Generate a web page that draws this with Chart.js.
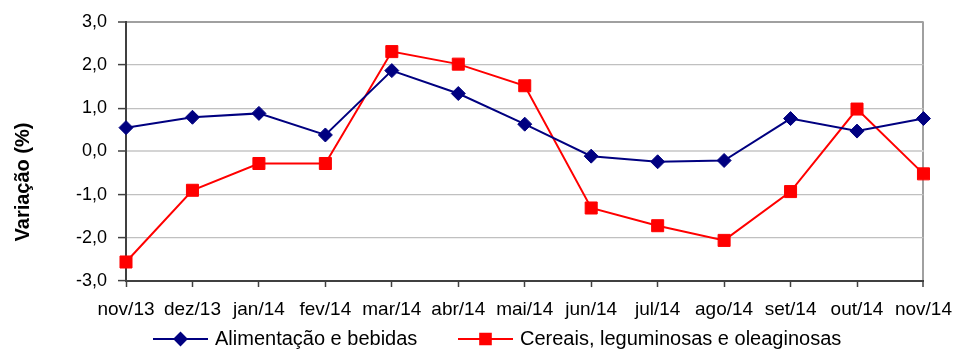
<!DOCTYPE html>
<html>
<head>
<meta charset="utf-8">
<script src="https://cdn.jsdelivr.net/npm/chart.js@4"></script>
<style>
    html, body { margin: 0; padding: 0; background: #fff; }
    #wrap { width: 963px; height: 354px; }
</style>
</head>
<body>
<div id="wrap"><canvas id="variacaoChart" width="963" height="354"></canvas></div>
<script>
// Monthly price variation (%)
const months = ['nov/13', 'dez/13', 'jan/14', 'fev/14', 'mar/14', 'abr/14', 'mai/14',
                'jun/14', 'jul/14', 'ago/14', 'set/14', 'out/14', 'nov/14'];
const alimentacao = [0.55, 0.79, 0.88, 0.38, 1.87, 1.34, 0.63, -0.11, -0.24, -0.21, 0.76, 0.47, 0.76];
const cereais = [-2.56, -0.90, -0.28, -0.28, 2.31, 2.02, 1.52, -1.31, -1.72, -2.06, -0.93, 0.98, -0.52];
const yTicks = [-3, -2, -1, 0, 1, 2, 3];
const yTitle = 'Variação (%)';

document.addEventListener('DOMContentLoaded', function() {
    const ctx = document.getElementById('variacaoChart');
    if (!ctx) return;

    const fontFamily = '"Liberation Sans", Arial, sans-serif';

    // axis title and a line+marker legend drawn on top of the chart
    const overlay = {
        id: 'overlay',
        afterDraw(chart) {
            const c = chart.ctx;
            c.save();
            c.translate(23, 182);
            c.rotate(-Math.PI / 2);
            c.font = 'bold 20px ' + fontFamily;
            c.fillStyle = '#000';
            c.textAlign = 'center';
            c.textBaseline = 'middle';
            c.fillText(yTitle, 0, 0);
            c.restore();

            const starts = [153, 458];
            const y = 339;
            chart.data.datasets.forEach((ds, i) => {
                const x = starts[i];
                c.save();
                c.strokeStyle = ds.borderColor;
                c.lineWidth = 2;
                c.beginPath();
                c.moveTo(x, y);
                c.lineTo(x + 55, y);
                c.stroke();
                c.fillStyle = ds.backgroundColor;
                c.strokeStyle = ds.borderColor;
                Chart.helpers.drawPoint(c, {
                    pointStyle: ds.pointStyle,
                    radius: ds.pointRadius - 1,
                    rotation: 0,
                    borderWidth: 1
                }, x + 27.5, y);
                c.font = '20px ' + fontFamily;
                c.fillStyle = '#000';
                c.textAlign = 'left';
                c.textBaseline = 'middle';
                c.fillText(ds.label, x + 62, y);
                c.restore();
            });
        }
    };

    new Chart(ctx.getContext('2d'), {
        type: 'line',
        data: {
            labels: months,
            datasets: [
                {
                    label: 'Alimentação e bebidas',
                    data: alimentacao,
                    borderColor: '#000080',
                    backgroundColor: '#000080',
                    borderWidth: 2,
                    tension: 0,
                    pointStyle: 'rectRot',
                    pointRadius: 7,
                    pointBorderWidth: 1
                },
                {
                    label: 'Cereais, leguminosas e oleaginosas',
                    data: cereais,
                    borderColor: '#ff0000',
                    backgroundColor: '#ff0000',
                    borderWidth: 2,
                    tension: 0,
                    pointStyle: 'rect',
                    pointRadius: 8.5,
                    pointBorderWidth: 1
                }
            ]
        },
        options: {
            responsive: false,
            animation: false,
            layout: {
                padding: { top: 19, right: 39, bottom: 28, left: 0 }
            },
            scales: {
                x: {
                    type: 'category',
                    offset: false,
                    afterFit: function(scale) { scale.height = 45; },
                    border: { color: '#404040', width: 2 },
                    grid: {
                        drawOnChartArea: true,
                        color: c => c.index === months.length - 1 ? '#a0a0a0' : 'rgba(0,0,0,0)',
                        lineWidth: c => c.index === months.length - 1 ? 2 : 1,
                        tickColor: '#404040',
                        tickWidth: 1.5,
                        tickLength: 6
                    },
                    ticks: {
                        autoSkip: false,
                        maxRotation: 0,
                        minRotation: 0,
                        padding: 11,
                        color: '#000',
                        font: { family: '"Liberation Sans Narrow", "Arial Narrow", ' + fontFamily, size: 19 }
                    }
                },
                y: {
                    min: yTicks[0],
                    max: yTicks[yTicks.length - 1],
                    afterFit: function(scale) { scale.width = 126; },
                    afterBuildTicks: function(scale) {
                        scale.ticks = yTicks.map(v => ({ value: v }));
                    },
                    border: { color: '#404040', width: 2 },
                    grid: {
                        color: c => c.tick && c.tick.value === 3 ? '#a0a0a0' : (c.tick && c.tick.value === 0 ? '#d4d4d4' : '#c0c0c0'),
                        lineWidth: c => c.tick && (c.tick.value === 3 || c.tick.value === 0) ? 2 : 1.2,
                        tickColor: '#404040',
                        tickWidth: 1.5,
                        tickLength: 8
                    },
                    ticks: {
                        padding: 11,
                        color: '#000',
                        font: { family: fontFamily, size: 18 },
                        callback: v => v.toFixed(1).replace('.', ',')
                    }
                }
            },
            plugins: {
                legend: { display: false },
                tooltip: { enabled: false }
            }
        },
        plugins: [overlay]
    });
});
</script>
</body>
</html>
